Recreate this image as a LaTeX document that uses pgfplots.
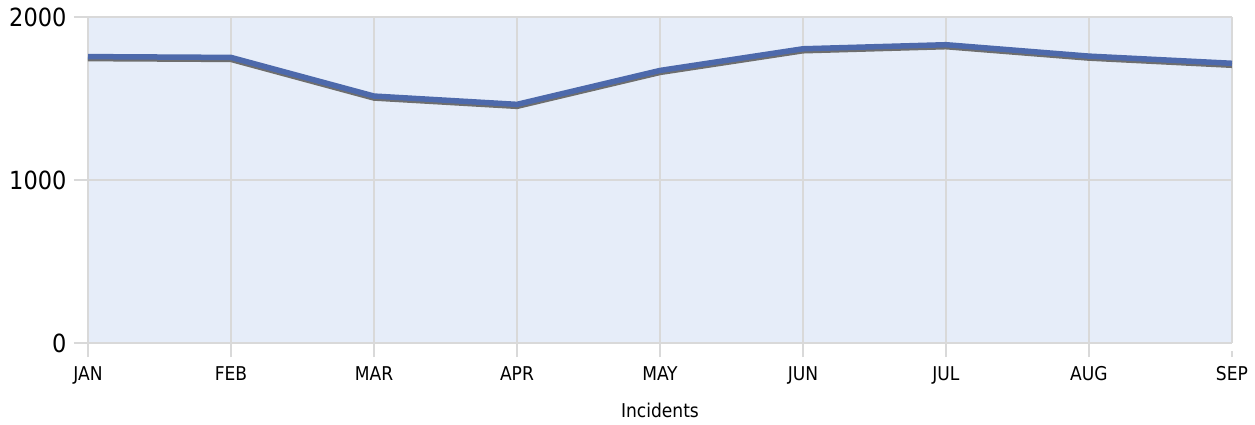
\documentclass[border=0pt]{standalone}
\usepackage{fontspec}
\setmainfont{DejaVu Sans Condensed}
\usepackage{pgfplots}
\pgfplotsset{compat=1.18}
\definecolor{bgc}{HTML}{E6EDF9}
\definecolor{gridc}{HTML}{D9D9D9}
\definecolor{linec}{HTML}{4D69AB}
\definecolor{shadc}{HTML}{6E6E6E}
\begin{document}
\begin{tikzpicture}[x=1pt,y=1pt]
\useasboundingbox (0,0) rectangle (1255,425);
\begin{axis}[
  at={(88pt,82pt)}, anchor=south west,
  scale only axis, width=1144pt, height=326pt,
  xmin=0, xmax=8, ymin=0, ymax=2000,
  xtick={0,...,8},
  xticklabels={JAN,FEB,MAR,APR,MAY,JUN,JUL,AUG,SEP},
  ytick={0,1000,2000},
  axis background/.style={fill=bgc},
  axis line style={draw=none},
  grid=major,
  major grid style={draw=gridc, line width=2.8pt},
  tick style={draw=gridc, line width=2.8pt},
  major tick length=14pt,
  tick align=outside,
  xtick pos=bottom, ytick pos=left,
  x tick style={shorten >=8pt},
  /pgf/number format/assume math mode=true,
  /pgf/number format/1000 sep={},
  yticklabel style={font=\fontsize{25}{25}\selectfont, xshift=-4pt},
  xticklabel style={font=\fontsize{19}{19}\selectfont, yshift=-6pt},
  xlabel={Incidents},
  xlabel style={font=\fontsize{19}{19}\selectfont, yshift=-12pt},
  clip=false,
]
\addplot[shadc, line width=5.5pt, yshift=-2pt] coordinates {
(0,1757) (1,1752) (2,1515) (3,1464) (4,1672) (5,1805) (6,1830) (7,1760) (8,1716)};
\addplot[linec, line width=5.5pt] coordinates {
(0,1757) (1,1752) (2,1515) (3,1464) (4,1672) (5,1805) (6,1830) (7,1760) (8,1716)};
\end{axis}
\end{tikzpicture}
\end{document}
